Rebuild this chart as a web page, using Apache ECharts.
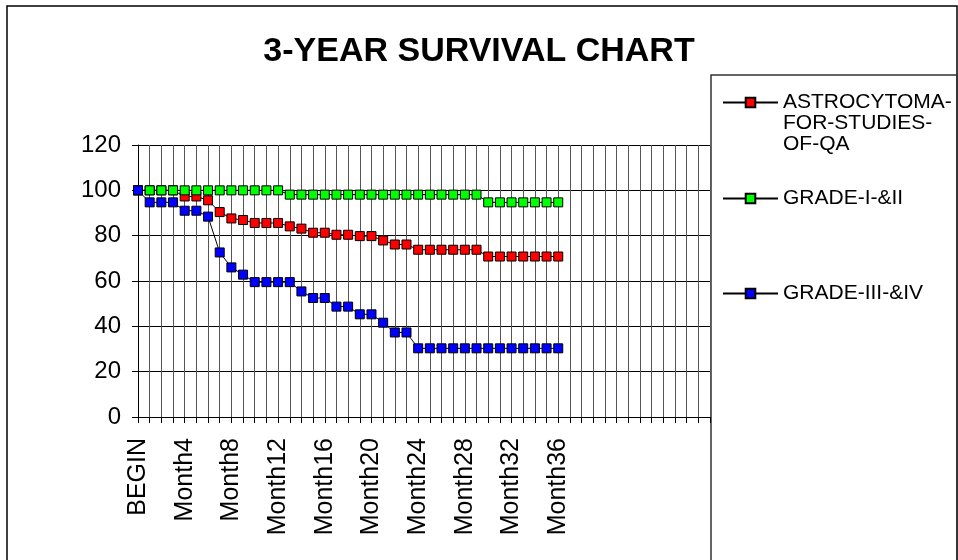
<!DOCTYPE html>
<html>
<head>
<meta charset="utf-8">
<script src="https://cdn.jsdelivr.net/npm/echarts@6/dist/echarts.min.js"></script>
<style>
  html, body { margin: 0; padding: 0; background: #fff; }
  #chart { width: 958px; height: 560px; }
</style>
</head>
<body>
<div id="chart"></div>
<script>
// x categories: BEGIN, Month1..Month36, then blank slots Excel left on the axis
const categories = ['BEGIN'];
for (let i = 1; i <= 49; i++) {
  categories.push(i <= 36 ? 'Month' + i : '');
}

const yTicks = [0, 20, 40, 60, 80, 100, 120];

const seriesNames = ['ASTROCYTOMA-FOR-STUDIES-OF-QA', 'GRADE-I-&II', 'GRADE-III-&IV'];

const astrocytoma = [100, 100, 100, 100, 97.3, 97.3, 95.6, 90.4, 87.6, 86.9,
  85.6, 85.6, 85.6, 84.1, 83.1, 81.3, 81.3, 80.4, 80.4, 79.8,
  79.8, 77.9, 76.1, 76.1, 73.8, 73.8, 73.8, 73.8, 73.8, 73.8,
  70.8, 70.8, 70.8, 70.8, 70.8, 70.8, 70.8];

const gradeLow = [100, 100, 100, 100, 100, 100, 100, 100, 100, 100,
  100, 100, 100, 98.1, 98.1, 98.1, 98.1, 98.1, 98.1, 98.1,
  98.1, 98.1, 98.1, 98.1, 98.1, 98.1, 98.1, 98.1, 98.1, 98.1,
  94.7, 94.7, 94.7, 94.7, 94.7, 94.7, 94.7];

const gradeHigh = [100, 94.7, 94.7, 94.7, 91.0, 91.0, 88.4, 72.6, 66.0, 62.8,
  59.5, 59.5, 59.5, 59.5, 55.4, 52.5, 52.5, 48.7, 48.7, 45.3,
  45.3, 41.6, 37.3, 37.3, 30.3, 30.3, 30.3, 30.3, 30.3, 30.3,
  30.3, 30.3, 30.3, 30.3, 30.3, 30.3, 30.3];

const colors = ['#ff0000', '#00ff00', '#0000ff'];

const font = 'Liberation Sans, Arial, sans-serif';

function makeSeries(name, data, color) {
  return {
    name: name,
    type: 'line',
    data: data,
    symbol: 'rect',
    symbolSize: 9,
    showSymbol: true,
    showAllSymbol: true,
    animation: false,
    lineStyle: { color: '#000', width: 1 },
    itemStyle: { color: color, borderColor: '#000', borderWidth: 1 },
    emphasis: { disabled: true }
  };
}

function makeLegend(name, top, text) {
  return {
    data: [name],
    left: 722,
    top: top,
    padding: 0,
    itemWidth: 55,
    itemHeight: 12,
    selectedMode: false,
    formatter: function () { return text; },
    textStyle: {
      color: '#000',
      fontFamily: font,
      fontSize: 21,
      lineHeight: 21
    }
  };
}

let myChart = echarts.init(document.getElementById('chart'));

let option = {
  backgroundColor: '#fff',
  animation: false,
  title: {
    text: '3-YEAR SURVIVAL CHART',
    left: 'center',
    top: 35,
    padding: 0,
    textStyle: {
      color: '#000',
      fontFamily: font,
      fontWeight: 'bold',
      fontSize: 34
    }
  },
  legend: [
    // two blank lines first so the wrapped name starts level with its marker
    makeLegend(seriesNames[0], 50, '\n\nASTROCYTOMA-\nFOR-STUDIES-\nOF-QA'),
    makeLegend(seriesNames[1], 188, seriesNames[1]),
    makeLegend(seriesNames[2], 283, seriesNames[2])
  ],
  grid: {
    left: 138,
    right: 248,
    top: 145,
    bottom: 143,
    outerBoundsMode: 'none'
  },
  xAxis: {
    type: 'category',
    data: categories,
    boundaryGap: false,
    axisLine: { lineStyle: { color: '#000', width: 1 } },
    axisTick: { show: true, interval: 0, length: 6, lineStyle: { color: '#000' } },
    axisLabel: {
      interval: 3,
      rotate: 90,
      margin: 21,
      color: '#000',
      fontFamily: font,
      fontSize: 25,
      hideOverlap: false
    },
    splitLine: { show: true, interval: 0, lineStyle: { color: '#555', width: 1 } }
  },
  yAxis: {
    type: 'value',
    min: yTicks[0],
    max: yTicks[yTicks.length - 1],
    interval: 20,
    axisLine: { show: true, lineStyle: { color: '#000', width: 1 } },
    axisTick: { show: true, length: 6, lineStyle: { color: '#000' } },
    axisLabel: {
      margin: 17,
      color: '#000',
      fontFamily: font,
      fontSize: 24
    },
    splitLine: { show: true, lineStyle: { color: '#000', width: 1 } }
  },
  graphic: [
    {
      type: 'rect',
      shape: { x: 7, y: 6, width: 950, height: 600 },
      style: { fill: null, stroke: '#000', lineWidth: 1.5 },
      silent: true,
      z: -1
    },
    {
      type: 'rect',
      shape: { x: 711, y: 75, width: 246, height: 520 },
      style: { fill: null, stroke: '#333', lineWidth: 1.5 },
      silent: true,
      z: -1
    }
  ],
  series: [
    makeSeries(seriesNames[0], astrocytoma, colors[0]),
    makeSeries(seriesNames[1], gradeLow, colors[1]),
    makeSeries(seriesNames[2], gradeHigh, colors[2])
  ]
};

myChart.setOption(option);
</script>
</body>
</html>
